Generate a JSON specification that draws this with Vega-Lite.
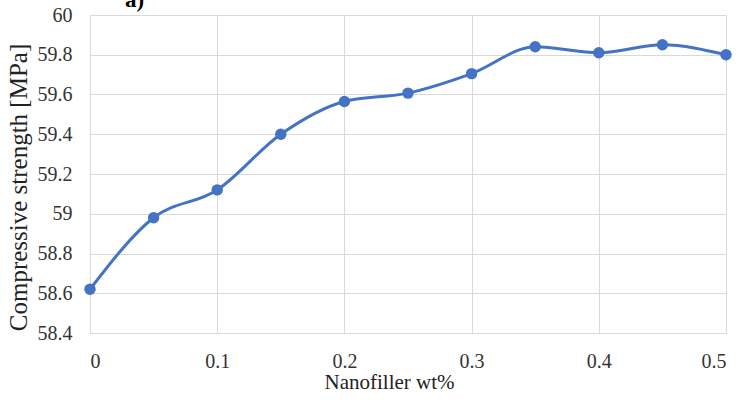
{
  "$schema": "https://vega.github.io/schema/vega-lite/v6.json",
  "autosize": "none",
  "width": 636,
  "height": 318,
  "padding": {"left": 90, "top": 15, "right": 12, "bottom": 67},
  "background": "white",
  "title": {
    "text": "a)",
    "anchor": "start",
    "frame": "group",
    "font": "Times New Roman",
    "fontSize": 23,
    "fontWeight": "bold",
    "color": "#000",
    "baseline": "bottom",
    "offset": 0,
    "dx": 35,
    "dy": 30
  },
  "config": {
    "view": {"stroke": null}
  },
  "data": {"values": [
    {"wt": 0, "strength": 58.62},
    {"wt": 0.05, "strength": 58.98},
    {"wt": 0.1, "strength": 59.12},
    {"wt": 0.15, "strength": 59.40},
    {"wt": 0.2, "strength": 59.565},
    {"wt": 0.25, "strength": 59.607},
    {"wt": 0.3, "strength": 59.705},
    {"wt": 0.35, "strength": 59.84},
    {"wt": 0.4, "strength": 59.81},
    {"wt": 0.45, "strength": 59.85},
    {"wt": 0.5, "strength": 59.80}
  ]},
  "mark": {
    "type": "line",
    "color": "#4472C4",
    "strokeWidth": 3,
    "interpolate": "monotone",
    "point": {"filled": true, "color": "#4472C4", "size": 130, "opacity": 1}
  },
  "encoding": {
    "x": {
      "field": "wt", "type": "quantitative",
      "scale": {"domain": [0, 0.5], "nice": false},
      "axis": {
        "title": "Nanofiller wt%",
        "values": [0, 0.1, 0.2, 0.3, 0.4, 0.5],
        "format": "~g",
        "domain": false,
        "ticks": false,
        "gridColor": "#d9d9d9",
        "gridWidth": 1,
        "labelOverlap": false,
        "labelFont": "Times New Roman",
        "labelFontSize": 20,
        "labelColor": "#333",
        "labelPadding": 18,
        "titleFont": "Times New Roman",
        "titleFontSize": 21,
        "titleFontWeight": "normal",
        "titleColor": "#222",
        "titlePadding": 0,
        "titleX": 299
      }
    },
    "y": {
      "field": "strength", "type": "quantitative",
      "scale": {"domain": [58.4, 60], "nice": false, "zero": false},
      "axis": {
        "title": "Compressive strength [MPa]",
        "values": [58.4, 58.6, 58.8, 59, 59.2, 59.4, 59.6, 59.8, 60],
        "format": "~g",
        "domain": false,
        "ticks": false,
        "gridColor": "#d9d9d9",
        "gridWidth": 1,
        "labelOverlap": false,
        "labelFont": "Times New Roman",
        "labelFontSize": 20,
        "labelColor": "#333",
        "labelPadding": 18,
        "titleFont": "Times New Roman",
        "titleFontSize": 25,
        "titleFontWeight": "normal",
        "titleColor": "#222",
        "titlePadding": 6,
        "titleY": 172
      }
    }
  }
}
